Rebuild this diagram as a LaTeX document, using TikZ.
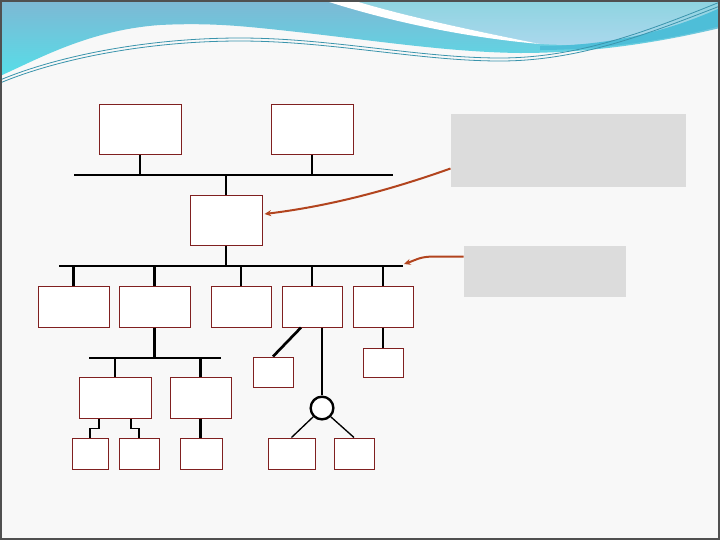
\documentclass[tikz,border=0pt]{standalone}
\usetikzlibrary{fit,calc,arrows.meta}

\definecolor{boxred}{RGB}{128,32,32}
\definecolor{notegray}{RGB}{220,220,220}
\definecolor{arrowbrown}{RGB}{178,68,30}
\definecolor{pagebg}{RGB}{248,248,248}
\definecolor{pageframe}{RGB}{80,80,80}
\definecolor{waveblue}{RGB}{126,184,212}
\definecolor{wavecyan}{RGB}{86,222,232}
\definecolor{wavelight}{RGB}{142,212,224}
\definecolor{wavepale}{RGB}{172,216,238}
\definecolor{waveband}{RGB}{78,190,216}
\definecolor{waveline}{RGB}{58,148,172}

\tikzset{every picture/.style={line width=0.75pt}}
\tikzset{
  blk/.style={draw=boxred, fill=white, inner sep=0pt},
  note/.style={fill=notegray, inner sep=0pt},
  busline/.style={line width=2pt},
  thinlink/.style={line width=1pt},
  thicklink/.style={line width=2pt},
  pointer/.style={draw=arrowbrown, line width=1.5pt, -{Stealth[length=5pt,width=4.5pt]}},
  ring/.style={circle, draw, fill=white, line width=1.8pt, minimum size=17pt, inner sep=0pt}
}

\begin{document}
\begin{tikzpicture}[x=0.75pt,y=0.75pt,yscale=-1,xscale=1]
\useasboundingbox (0,0) rectangle (720,540);

		% page and top wave
		\fill[pagebg] (0,0) rectangle (720,540);
		\shade[top color=waveblue, bottom color=wavecyan] (0,0) -- (720,0) -- (720,28) .. controls (670,40) and (600,53) .. (520,53) .. controls (440,52) and (360,38) .. (260,28) .. controls (230,25) and (200,23) .. (160,25) .. controls (90,30) and (40,58) .. (0,76) -- cycle;
		\shade[top color=wavelight, bottom color=wavepale] (352,0) -- (720,0) -- (720,15) .. controls (660,38) and (600,48) .. (540,44) .. controls (470,30) and (400,15) .. (352,0) -- cycle;
		\fill[white] (323,0) -- (352,0) .. controls (400,15) and (470,30) .. (540,44) .. controls (470,38) and (390,22) .. (323,0) -- cycle;
		\fill[waveband] (540,46) .. controls (620,46) and (680,26) .. (720,8) -- (720,26) .. controls (670,40) and (600,50) .. (540,50) -- cycle;
		\draw[waveline, line width=0.6pt] (0,80) .. controls (60,55) and (150,38) .. (240,38) .. controls (330,38) and (420,58) .. (500,58) .. controls (580,58) and (650,30) .. (720,2);
		\draw[waveline, line width=0.6pt] (0,83) .. controls (60,58) and (150,41) .. (240,41) .. controls (330,41) and (420,61) .. (500,61) .. controls (580,61) and (650,33) .. (720,6);

		% boxes
		\node[blk, fit={(99,104) (181,154)}] (srvA) {};
		\node[blk, fit={(271,104) (353,154)}] (srvB) {};
		\node[blk, fit={(190,195) (262,245)}] (hub) {};
		\node[blk, fit={(38,286) (109,327)}] (d1) {};
		\node[blk, fit={(119,286) (190,327)}] (d2) {};
		\node[blk, fit={(211,286) (271,327)}] (d3) {};
		\node[blk, fit={(282,286) (342,327)}] (d4) {};
		\node[blk, fit={(353,286) (413,327)}] (d5) {};
		\node[blk, fit={(79,377) (151,418)}] (e1) {};
		\node[blk, fit={(170,377) (231,418)}] (e2) {};
		\node[blk, fit={(72,438) (108,469)}] (f1) {};
		\node[blk, fit={(119,438) (159,469)}] (f2) {};
		\node[blk, fit={(180,438) (222,469)}] (f3) {};
		\node[blk, fit={(253,357) (293,387)}] (g1) {};
		\node[blk, fit={(363,348) (403,377)}] (g2) {};
		\node[blk, fit={(268,438) (315,469)}] (h1) {};
		\node[blk, fit={(334,438) (374,469)}] (h2) {};
		\node[ring] (ring) at (322,408) {};

		% grey notes
		\node[note, fit={(451,114) (686,187)}] (note1) {};
		\node[note, fit={(464,246) (626,297)}] (note2) {};

		% buses
		\coordinate (bus1w) at (74,175);
		\coordinate (bus1e) at (393,175);
		\coordinate (bus2w) at (59,266);
		\coordinate (bus2e) at (403,266);
		\coordinate (bus3w) at (89,358);
		\coordinate (bus3e) at (221,358);
		\draw[busline] (bus1w) -- (bus1e);
		\draw[busline] (bus2w) -- (bus2e);
		\draw[thinlink] (bus3w) -- (bus3e);

		% links
		\draw[thicklink] (srvA.south) -- (srvA.south |- bus1w);
		\draw[thinlink] (srvB.south) -- (srvB.south |- bus1w);
		\draw[thicklink] (hub.north) -- (hub.north |- bus1w);
		\draw[thicklink] (hub.south) -- (hub.south |- bus2w);
		\draw[thicklink] (d1.north) -- (d1.north |- bus2w);
		\draw[thicklink] (d2.north) -- (d2.north |- bus2w);
		\draw[thinlink] (d3.north) -- (d3.north |- bus2w);
		\draw[thinlink] (d4.north) -- (d4.north |- bus2w);
		\draw[thinlink] (d5.north) -- (d5.north |- bus2w);
		\draw[thicklink] (d2.south) -- (d2.south |- bus3w);
		\draw[thinlink] (e1.north) -- (e1.north |- bus3w);
		\draw[thicklink] (e2.north) -- (e2.north |- bus3w);
		\draw[thinlink] ($(e1.south)+(-16,0)$) -- ++(0,10) -| (f1.north);
		\draw[thinlink] ($(e1.south)+(16,0)$) -- ++(0,10) -| (f2.north);
		\draw[thicklink] (e2.south) -- (e2.south |- f3.north);
		\draw[thicklink] ($(d4.south)+(-11,0)$) -- (g1.north);
		\draw[thinlink] ($(d4.south)+(10,0)$) -- (ring.north);
		\draw[thinlink] (ring.south west) -- (h1.north);
		\draw[thinlink] (ring.south east) -- (h2.north);
		\draw[thinlink] (d5.south) -- (g2.north);

		% pointers from the notes
		\draw[pointer] ($(note1.south west)+(0,-19)$) .. controls (390,190) and (330,206) .. ($(hub.east)+(2,-6)$);
		\draw[pointer] ($(note2.north west)+(0,11)$) -- ++(-29,0) .. controls +(-15,0) and +(12,-4) .. ($(bus2e)+(1,-2)$);

		\draw[pageframe, line width=1.2pt] (0.8,0.8) rectangle (719.2,539.2);

\end{tikzpicture}
\end{document}
